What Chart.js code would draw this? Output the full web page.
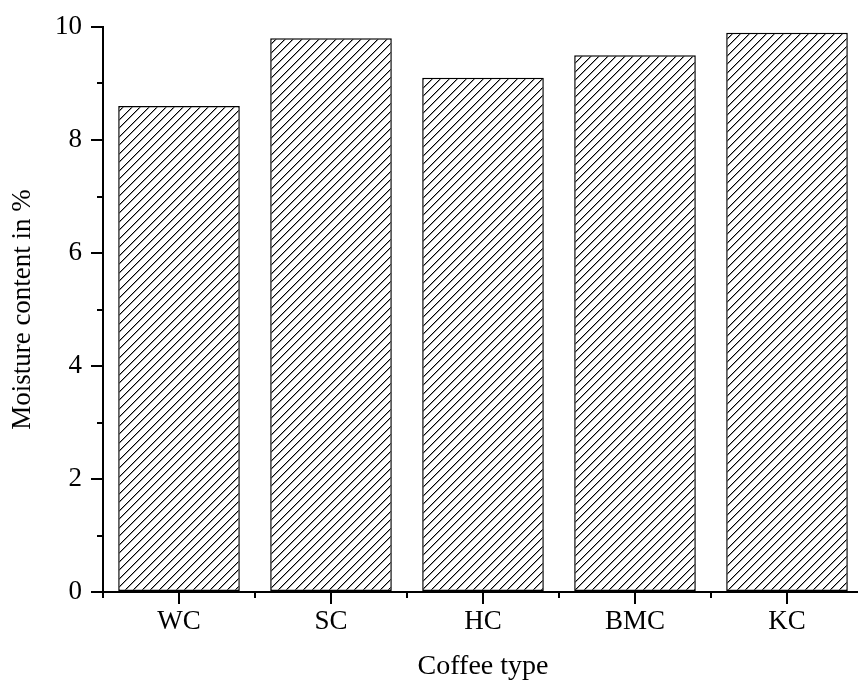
<!DOCTYPE html>
<html>
<head>
<meta charset="utf-8">
<script src="https://cdn.jsdelivr.net/npm/chart.js@4.4.0/dist/chart.umd.min.js"></script>
<style>
  html, body { margin: 0; padding: 0; background: #fff; overflow: hidden; }
  #wrap { width: 866px; height: 683px; }
</style>
</head>
<body>
<div id="wrap"><canvas id="chart"></canvas></div>
<script>
// --- data ---
const categories = ['WC', 'SC', 'HC', 'BMC', 'KC'];
const moisture = [8.6, 9.8, 9.1, 9.5, 9.9];
const yTicks = [0, 2, 4, 6, 8, 10];
const yMinorTicks = [1, 3, 5, 7, 9];

const FONT = '"Liberation Serif", "Times New Roman", serif';

// hatch fill: "/" staircase lines about 8.5px apart
const makeHatch = () => {
    const size = 17;
    const c = document.createElement('canvas');
    c.width = size;
    c.height = size;
    const g = c.getContext('2d');
    g.fillStyle = '#fff';
    g.fillRect(0, 0, size, size);
    for (let px = 0; px < size; px++) {
        for (let py = 0; py < size; py++) {
            const m = (px + py) % size;
            if (m === 0 || m === 8) {
                g.fillStyle = '#000';
                g.fillRect(px, py, 1, 1);
            } else if (m === 1 || m === 9) {
                g.fillStyle = '#999';
                g.fillRect(px, py, 1, 1);
            }
        }
    }
    return g.createPattern(c, 'repeat');
};

// short ticks between the labelled ones
const minorTicks = {
    id: 'minorTicks',
    afterDraw(chart) {
        const { ctx } = chart;
        const x = chart.scales.x;
        const y = chart.scales.y;
        ctx.save();
        ctx.strokeStyle = '#000';
        ctx.lineWidth = 2;
        ctx.beginPath();
        yMinorTicks.forEach(v => {
            const py = Math.round(y.getPixelForValue(v));
            ctx.moveTo(y.right - 6, py);
            ctx.lineTo(y.right, py);
        });
        for (let i = 0; i <= categories.length; i++) {
            const px = Math.round(x.getPixelForValue(i - 0.5));
            ctx.moveTo(px, x.top);
            ctx.lineTo(px, x.top + 6);
        }
        ctx.stroke();
        ctx.restore();
    }
};

new Chart(document.getElementById('chart'), {
    type: 'bar',
    data: {
        labels: categories,
        datasets: [{
            data: moisture,
            backgroundColor: makeHatch(),
            borderColor: '#000',
            borderWidth: 1.5,
            borderSkipped: false,
            categoryPercentage: 1,
            barPercentage: 0.8
        }]
    },
    options: {
        responsive: true,
        maintainAspectRatio: false,
        animation: false,
        layout: { padding: { top: 27, right: 3, bottom: 0, left: 0 } },
        plugins: { legend: { display: false }, tooltip: { enabled: false } },
        scales: {
            x: {
                afterFit: s => { s.height = 91; },
                grid: {
                    offset: false,
                    drawOnChartArea: false,
                    tickLength: 12,
                    color: '#000',
                    lineWidth: 2
                },
                border: { display: true, color: '#000', width: 2 },
                ticks: {
                    color: '#000',
                    padding: 2,
                    font: { family: FONT, size: 27 }
                },
                title: {
                    display: true,
                    text: 'Coffee type',
                    color: '#000',
                    padding: { top: 0, bottom: 0 },
                    font: { family: FONT, size: 28 }
                }
            },
            y: {
                min: 0,
                max: 10,
                afterFit: s => { s.width = 103; },
                afterBuildTicks: s => { s.ticks = yTicks.map(v => ({ value: v })); },
                grid: {
                    drawOnChartArea: false,
                    tickLength: 12,
                    color: '#000',
                    lineWidth: 2
                },
                border: { display: true, color: '#000', width: 2 },
                ticks: {
                    color: '#000',
                    padding: 9,
                    font: { family: FONT, size: 27 }
                },
                title: {
                    display: true,
                    text: 'Moisture content in %',
                    color: '#000',
                    padding: { top: 7, bottom: 0 },
                    font: { family: FONT, size: 27 }
                }
            }
        }
    },
    plugins: [minorTicks]
});
</script>
</body>
</html>
